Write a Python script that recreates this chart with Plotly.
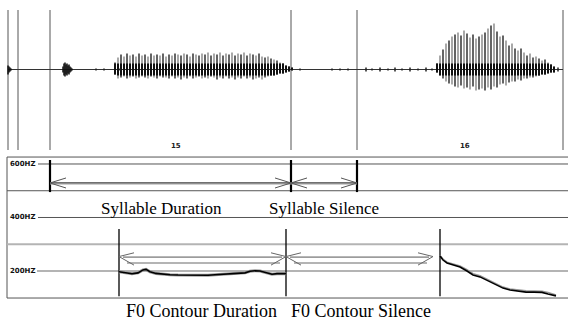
import plotly.graph_objects as go

W, H = 568, 320

# ---------------- data ----------------
# waveform panel (time axis in ms-like units, amplitude in arbitrary units)
wave_marks = [8, 18, 50, 291, 357, 563]
syllable_numbers = ["15", "16"]
syllable_number_x = [176, 465]

syl15_start, syl15_step = 115, 3
syl15_hi = [7, 12, 15, 13, 16, 14, 15, 13, 16, 14, 15, 13, 16, 14, 15, 14, 16, 13, 15, 14,
            16, 15, 14, 16, 15, 13, 16, 15, 14, 16, 15, 17, 14, 16, 15, 17, 14, 16, 15, 17,
            14, 16, 15, 17, 14, 16, 15, 14, 16, 13, 12, 13, 11, 10, 9, 7, 6, 4, 3, 2]
syl15_lo = [-5, -9, -8, -7, -9, -8, -7, -9, -8, -7, -8, -9, -7, -8, -9, -7, -8, -8, -9, -7,
            -9, -8, -10, -8, -9, -7, -9, -8, -7, -9, -8, -9, -7, -8, -10, -8, -9, -7, -9, -8,
            -10, -8, -9, -7, -9, -8, -10, -9, -8, -10, -8, -7, -6, -6, -5, -4, -4, -3, -2, -1]

syl16_start, syl16_step = 437, 3
syl16_hi = [6, 14, 20, 26, 29, 33, 35, 37, 34, 39, 36, 32, 35, 31, 33, 35, 37, 41, 44, 46,
            38, 33, 34, 29, 24, 26, 21, 19, 21, 17, 14, 16, 12, 13, 11, 9, 10, 7, 5, 3]
syl16_lo = [-3, -6, -9, -12, -14, -15, -17, -18, -16, -19, -18, -20, -17, -21, -20, -19, -21, -18, -20, -17,
            -18, -15, -14, -16, -13, -12, -12, -10, -11, -9, -9, -8, -8, -7, -6, -5, -5, -4, -3, -3]

burst_x = [8, 9, 10, 11, 63, 64, 65, 66, 67, 68, 69, 70, 71, 72]
burst_hi = [4, 3, 2, 1, 3, 6, 7, 5, 6, 4, 5, 3, 2, 1]
burst_lo = [-5, -3, -2, -1, -3, -6, -7, -5, -6, -4, -5, -3, -2, -1]

noise_x = [96, 104, 120, 300, 332, 340, 348, 366, 372, 380, 388, 395, 402, 410, 418, 426, 432, 558]
noise_amp = [1, 1, 1, 1, 1, 1, 1, 2, 1, 2, 1, 2, 1, 2, 1, 2, 1, 2]

# pitch panel
freq_ticks = [600, 400, 200]
freq_tick_labels = ["600HZ", "400HZ", "200HZ"]
grid_dark = [600, 500, 400]
grid_light = [300, 200]

syllable_bounds = [50, 291, 357]
f0_bounds = [119, 286, 440]
f0_silence_tip = 433

f0_a_x = [119, 125, 132, 138, 143, 146, 150, 156, 163, 170, 178, 186, 194, 200, 208,
          215, 222, 230, 238, 245, 250, 255, 260, 264, 268, 272, 277, 283, 286]
f0_a_hz = [197, 193, 190, 193, 204, 206, 197, 191, 188, 186, 185, 184, 183, 183, 184,
           186, 188, 188, 190, 193, 199, 201, 200, 196, 190, 188, 190, 190, 190]
f0_b_x = [440, 443, 447, 453, 460, 467, 473, 480, 487, 495, 503, 510, 518, 526, 534, 542, 548, 553, 556]
f0_b_hz = [256, 241, 230, 222, 215, 200, 185, 178, 166, 151, 136, 129, 125, 121, 121, 120, 114, 108, 107]
f0_b_raw_hz = [258, 245, 233, 226, 219, 205, 190, 182, 170, 156, 140, 133, 129, 126, 125, 124, 120, 114, 110]

labels = ["Syllable Duration", "Syllable Silence", "F0 Contour Duration", "F0 Contour Silence"]

# ---------------- figure ----------------
fig = go.Figure()


def segments(xs, his, los):
    X, Y = [], []
    for x, h, l in zip(xs, his, los):
        X += [x, x, None]
        Y += [l, h, None]
    return X, Y


# baseline
fig.add_trace(go.Scatter(x=[8, 563], y=[0, 0], mode="lines",
                         line=dict(color="#333", width=1), hoverinfo="skip", yaxis="y"))

xs15 = [syl15_start + syl15_step * i for i in range(len(syl15_hi))]
xs16 = [syl16_start + syl16_step * i for i in range(len(syl16_hi))]
all_x = xs15 + xs16
all_hi = syl15_hi + syl16_hi
all_lo = syl15_lo + syl16_lo

bx, by = segments(all_x[0::2], all_hi[0::2], all_lo[0::2])
gx, gy = segments(all_x[1::2], all_hi[1::2], all_lo[1::2])
fig.add_trace(go.Scatter(x=gx, y=gy, mode="lines", line=dict(color="#7a7a7a", width=1.3),
                         hoverinfo="skip", yaxis="y"))
fig.add_trace(go.Scatter(x=bx, y=by, mode="lines", line=dict(color="#111", width=1.3),
                         hoverinfo="skip", yaxis="y"))
# dense dark core
cx, cy = segments(all_x, [min(h, 6) for h in all_hi], [max(l, -6) for l in all_lo])
fig.add_trace(go.Scatter(x=cx, y=cy, mode="lines", line=dict(color="#111", width=2),
                         hoverinfo="skip", yaxis="y"))
ux, uy = segments(burst_x, burst_hi, burst_lo)
fig.add_trace(go.Scatter(x=ux, y=uy, mode="lines", line=dict(color="#111", width=1.5),
                         hoverinfo="skip", yaxis="y"))
nx, ny = segments(noise_x, noise_amp, [-a for a in noise_amp])
fig.add_trace(go.Scatter(x=nx, y=ny, mode="lines", line=dict(color="#222", width=1.5),
                         hoverinfo="skip", yaxis="y"))

# F0 contours
fig.add_trace(go.Scatter(x=f0_a_x, y=f0_a_hz, mode="lines", line=dict(color="#999", width=3),
                         hoverinfo="skip", yaxis="y2"))
fig.add_trace(go.Scatter(x=f0_a_x, y=f0_a_hz, mode="lines", line=dict(color="#000", width=1.6),
                         hoverinfo="skip", yaxis="y2"))
fig.add_trace(go.Scatter(x=f0_b_x, y=f0_b_raw_hz, mode="lines", line=dict(color="#999", width=1.5),
                         hoverinfo="skip", yaxis="y2"))
fig.add_trace(go.Scatter(x=f0_b_x, y=f0_b_hz, mode="lines", line=dict(color="#000", width=1.6),
                         hoverinfo="skip", yaxis="y2"))

shapes = []


def seg(x0, y0, x1, y1, color, width, yref="y2"):
    shapes.append(dict(type="line", xref="x", yref=yref, x0=x0, y0=y0, x1=x1, y1=y1,
                       line=dict(color=color, width=width), layer="below"))


# waveform segmentation lines
for m in wave_marks:
    seg(m, 59.5, m, -83.5, "#555", 1, yref="y")

# pitch panel frame and grid
HZ_TOP, HZ_BOT = 626, 99
seg(7, HZ_TOP, 568, HZ_TOP, "#555", 1)
seg(7, HZ_BOT, 568, HZ_BOT, "#555", 1)
seg(7, HZ_BOT, 7, HZ_TOP, "#555", 1)
for g in grid_dark:
    seg(38 if g in freq_ticks else 7, g, 568, g, "#555", 1)
for g in grid_light:
    seg(37 if g in freq_ticks else 7, g, 568, g, "#b4b4b4", 2)

# syllable boundaries and arrows
ARR_S = 529
HW = 18.7  # chevron half height in Hz
AL = 16    # chevron length in time units
for b in syllable_bounds:
    seg(b, 615, b, 495, "#000", 2.2)
for a, b in zip(syllable_bounds[:-1], syllable_bounds[1:]):
    seg(a, ARR_S - 2, b, ARR_S - 2, "#a0a0a0", 2)
    seg(a, ARR_S + 1, b, ARR_S + 1, "#555", 1)
    for tip, d in ((a, 1), (b, -1)):
        seg(tip, ARR_S, tip + d * AL, ARR_S + HW, "#555", 1)
        seg(tip, ARR_S, tip + d * AL, ARR_S - HW, "#555", 1)

# F0 boundaries and arrows
for b in f0_bounds:
    seg(b, 357, b, 106, "#000", 1.3)
ARR_D, ARR_G = 252, 230
f0_spans = [(f0_bounds[0], f0_bounds[1]), (f0_bounds[1], f0_silence_tip)]
for a, b in f0_spans:
    seg(a + 4, ARR_D, b - 4, ARR_D, "#555", 1)
    seg(a + 8, ARR_G, b - 6, ARR_G, "#b4b4b4", 2)
    for tip, d in ((a, 1), (b, -1)):
        seg(tip, ARR_D + 2, tip + d * 15, ARR_D + 16, "#666", 1)
        seg(tip, ARR_D + 2, tip + d * 15, ARR_G - 8, "#666", 1)

annotations = []
for t, v in zip(freq_tick_labels, freq_ticks):
    annotations.append(dict(x=8, y=v, xref="x", yref="y2", text="<b>%s</b>" % t, showarrow=False,
                            xanchor="left", yanchor="middle",
                            font=dict(family="DejaVu Sans", size=7, color="#111")))
for t, x in zip(syllable_numbers, syllable_number_x):
    annotations.append(dict(x=x, y=-76.5, xref="x", yref="y", text="<b>%s</b>" % t, showarrow=False,
                            xanchor="center", yanchor="middle",
                            font=dict(family="DejaVu Sans", size=7, color="#222")))
label_pos = [(161.5, 208, 17), (324, 208, 17), (201, 311, 18), (361, 311, 18)]
for t, (x, py, fs) in zip(labels, label_pos):
    annotations.append(dict(x=x, y=1 - py / H, xref="x", yref="paper", text=t, showarrow=False,
                            xanchor="center", yanchor="middle",
                            font=dict(family="Liberation Serif", size=fs, color="#000")))

# axes: 1 time unit per pixel horizontally
fig.update_layout(
    width=W, height=H,
    margin=dict(l=0, r=0, t=0, b=0),
    paper_bgcolor="white", plot_bgcolor="white",
    showlegend=False,
    xaxis=dict(range=[0, W], domain=[0, 1], visible=False, fixedrange=True),
    yaxis=dict(range=[-86.5, 69.5], domain=[1 - 156 / H, 1], visible=False, fixedrange=True),
    yaxis2=dict(range=[72.9, 652.3], domain=[1 - 305 / H, 1 - 150 / H], visible=False,
                anchor="x", fixedrange=True),
    shapes=shapes,
    annotations=annotations,
)

fig.write_html("out.html", config={"displayModeBar": False},
               post_script="document.body.style.margin='0px';document.body.style.overflow='hidden';")
